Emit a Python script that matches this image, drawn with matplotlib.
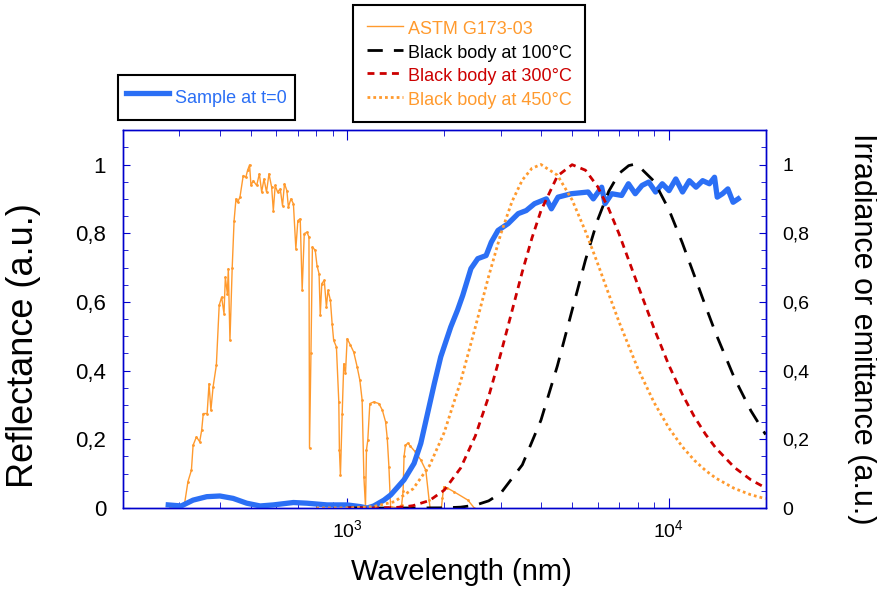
import numpy as np
import matplotlib.pyplot as plt
from matplotlib.ticker import FuncFormatter, MultipleLocator, LogLocator

plt.rcParams['font.family'] = ['Liberation Sans', 'DejaVu Sans']
plt.rcParams['mathtext.fontset'] = 'custom'
plt.rcParams['mathtext.rm'] = 'Liberation Sans'

# Sample reflectance at t=0 (wavelength in nm)
sample_wl = [277, 304, 331, 365, 401, 441, 486, 535, 588, 679, 748, 864, 998, 1098, 1151,
             1180, 1208, 1299, 1363, 1500, 1612, 1691, 1775, 1863, 1951, 2096, 2200, 2284,
             2422, 2544, 2700, 2803, 2940, 3162, 3398, 3600, 3820, 4157, 4310, 4520, 4970,
             5610, 5820, 6180, 6330, 6640, 7130, 7485, 7860, 8250, 8660, 9090, 9540, 10010,
             10510, 11030, 11580, 12150, 12740, 13370, 13870, 14140, 14690, 15260, 15840,
             16430]
sample_r = [0.009, 0.006, 0.023, 0.033, 0.035, 0.028, 0.014, 0.006, 0.009, 0.016, 0.014,
            0.009, 0.009, 0.004, 0.0, 0.003, 0.006, 0.023, 0.038, 0.082, 0.13, 0.188, 0.275,
            0.362, 0.44, 0.527, 0.576, 0.619, 0.697, 0.726, 0.735, 0.774, 0.808, 0.828,
            0.857, 0.866, 0.886, 0.90, 0.871, 0.905, 0.915, 0.92, 0.90, 0.934, 0.886, 0.915,
            0.91, 0.944, 0.915, 0.939, 0.949, 0.92, 0.944, 0.924, 0.958, 0.92, 0.953, 0.934,
            0.953, 0.944, 0.963, 0.905, 0.915, 0.929, 0.89, 0.90]

# ASTM G173-03 solar irradiance, normalised
astm_wl = [280, 304, 312, 319, 327, 331, 339, 347, 352, 356, 366, 371, 376, 382, 391, 399,
           406, 413, 417, 423, 426, 431, 438, 444, 450, 455, 463, 474, 483, 489, 496, 501,
           509, 522, 532, 541, 550, 560, 570, 581, 588, 596, 606, 618, 628, 637, 648, 655,
           667, 679, 691, 701, 713, 723, 734, 748, 759, 762, 770, 778, 794, 804, 816, 823,
           832, 847, 860, 870, 885, 896, 906, 924, 940, 944, 951, 963, 974, 986, 998, 1022,
           1046, 1072, 1093, 1111, 1125, 1138, 1146, 1157, 1174, 1208, 1253, 1284, 1314,
           1330, 1346, 1362, 1440, 1475, 1490, 1500, 1515, 1540, 1570, 1620, 1691, 1753,
           1795, 1808, 1960, 1975, 1995, 2047, 2148, 2370, 2481]
astm_irr = [0.0, 0.0, 0.018, 0.077, 0.11, 0.183, 0.207, 0.193, 0.227, 0.275, 0.275, 0.362,
            0.285, 0.353, 0.416, 0.59, 0.614, 0.566, 0.672, 0.624, 0.697, 0.488, 0.70,
            0.837, 0.90, 0.89, 0.905, 0.968, 0.963, 0.983, 0.999, 0.939, 0.953, 0.939,
            0.973, 0.92, 0.958, 0.92, 0.973, 0.934, 0.866, 0.939, 0.92, 0.929, 0.88, 0.944,
            0.924, 0.876, 0.90, 0.886, 0.755, 0.837, 0.842, 0.634, 0.799, 0.803, 0.789,
            0.174, 0.45, 0.76, 0.75, 0.706, 0.682, 0.561, 0.653, 0.663, 0.585, 0.634, 0.605,
            0.537, 0.488, 0.469, 0.309, 0.169, 0.096, 0.275, 0.42, 0.392, 0.493, 0.474,
            0.454, 0.411, 0.372, 0.314, 0.091, 0.004, 0.169, 0.198, 0.304, 0.309, 0.304,
            0.285, 0.251, 0.203, 0.12, 0.004, 0.0, 0.01, 0.05, 0.15, 0.182, 0.189, 0.18,
            0.165, 0.14, 0.11, 0.023, 0.0, 0.0, 0.03, 0.062, 0.058, 0.047, 0.023, 0.0]

# Black body emittance, normalised to peak
bb100_wl = [1000, 1500, 2000, 2250, 2500, 2750, 3000, 3500, 4000, 4500, 5000, 5500, 6000,
            6500, 7000, 7500, 7750, 8000, 9000, 10000, 11000, 12000, 13000, 14000, 16000,
            18000, 20000]
bb100 = [0.0, 0.0, 0.0005, 0.0025, 0.0083, 0.0208, 0.0433, 0.1257, 0.2557, 0.414, 0.576,
         0.7214, 0.838, 0.922, 0.974, 0.9968, 1.0, 0.998, 0.951, 0.869, 0.773, 0.677,
         0.588, 0.508, 0.378, 0.283, 0.2138]

bb300_wl = [1000, 1200, 1400, 1500, 1600, 1800, 2000, 2250, 2500, 2750, 3000, 3250, 3500,
            3750, 4000, 4500, 5000, 5500, 6000, 6500, 7000, 8000, 9000, 10000, 11000,
            12000, 13000, 14000, 16000, 18000, 20000]
bb300 = [0.0, 0.0002, 0.0014, 0.0033, 0.0069, 0.0218, 0.052, 0.1164, 0.2098, 0.3245,
         0.4496, 0.5734, 0.688, 0.786, 0.8655, 0.9665, 0.9995, 0.9835, 0.936, 0.871,
         0.798, 0.650, 0.522, 0.4158, 0.332, 0.266, 0.2148, 0.1746, 0.118, 0.082, 0.0586]

bb450_wl = [800, 1000, 1200, 1400, 1600, 1800, 2000, 2250, 2500, 2750, 3000, 3250, 3500,
            3750, 4000, 4500, 5000, 5500, 6000, 6500, 7000, 8000, 9000, 10000, 11000,
            12000, 13000, 14000, 16000, 18000, 20000]
bb450 = [0.0, 0.0003, 0.0037, 0.0184, 0.0558, 0.1232, 0.2198, 0.3684, 0.5267, 0.6745,
         0.798, 0.892, 0.9548, 0.989, 1.0, 0.969, 0.897, 0.806, 0.7127, 0.623, 0.5415,
         0.407, 0.3066, 0.233, 0.179, 0.139, 0.1094, 0.087, 0.0568, 0.0385, 0.027]

blue = '#2b6ff5'
orange = '#ff9a2e'
red = '#cc0000'
axcol = '#0000cc'

fig = plt.figure(figsize=(8.77, 5.89), dpi=100)
ax = fig.add_axes([0.140, 0.1375, 0.733, 0.6415])

l_astm, = ax.plot(astm_wl, astm_irr, color=orange, lw=1, marker='.', ms=2, zorder=2,
                  label='ASTM G173-03')
l_sample, = ax.plot(sample_wl, sample_r, color=blue, lw=3.8, zorder=3, label='Sample at t=0')
l_100, = ax.plot(bb100_wl, bb100, color='black', lw=2, dashes=(5.5, 4), zorder=4,
                 label='Black body at 100°C')
l_300, = ax.plot(bb300_wl, bb300, color=red, lw=2, dashes=(2.5, 1.9), zorder=4,
                 label='Black body at 300°C')
l_450, = ax.plot(bb450_wl, bb450, color=orange, lw=2, dashes=(1, 1.1), zorder=4,
                 label='Black body at 450°C')

ax.set_xscale('log')
ax.set_xlim(200, 20000)
ax.set_ylim(0, 1.1)

def comma(v, pos):
    if abs(v) < 1e-9:
        return '0'
    if abs(v - 1) < 1e-9:
        return '1'
    return f'{v:.1f}'.replace('.', ',')

ax.yaxis.set_major_locator(MultipleLocator(0.2))
ax.yaxis.set_minor_locator(MultipleLocator(0.05))
ax.yaxis.set_major_formatter(FuncFormatter(comma))
ax.xaxis.set_minor_locator(LogLocator(base=10, subs=np.arange(2, 10)))

ax2 = ax.twinx()
ax2.set_ylim(0, 1.1)
ax2.yaxis.set_major_locator(MultipleLocator(0.2))
ax2.yaxis.set_minor_locator(MultipleLocator(0.05))
ax2.yaxis.set_major_formatter(FuncFormatter(comma))

for a in (ax, ax2):
    for s in a.spines.values():
        s.set_color(axcol)
        s.set_linewidth(1)

ax.tick_params(axis='x', which='both', direction='in', top=True, colors=axcol,
               labelcolor='black', labelsize=14, pad=8)
ax.tick_params(axis='x', which='major', length=7)
ax.tick_params(axis='x', which='minor', length=4)
ax.tick_params(axis='y', which='both', direction='in', right=False, colors=axcol,
               labelcolor='black', labelsize=16, pad=12)
ax.tick_params(axis='y', which='major', length=5)
ax.tick_params(axis='y', which='minor', length=3.5)
ax2.tick_params(axis='y', which='both', direction='in', colors=axcol,
                labelcolor='black', labelsize=14, pad=12)
ax2.tick_params(axis='y', which='major', length=5)
ax2.tick_params(axis='y', which='minor', length=3.5)

ax.set_xlabel('Wavelength (nm)', fontsize=21)
ax.xaxis.set_label_coords(0.5265, -0.133)
fig.text(24 / 877, 1 - 346 / 589, 'Reflectance (a.u.)', fontsize=26, rotation=90,
         ha='center', va='center')
fig.text(862 / 877, 1 - 329 / 589, 'Irradiance or emittance (a.u.)', fontsize=22,
         rotation=270, ha='center', va='center')

leg1 = fig.legend(handles=[l_sample], loc='upper left', bbox_to_anchor=(0.1345, 0.8727),
                  fontsize=13, labelcolor='linecolor', handlelength=2.4, handleheight=2.1,
                  handletextpad=0.3, borderaxespad=0, fancybox=False, framealpha=1,
                  borderpad=0.45)
leg1.get_frame().set_edgecolor('black')
leg1.get_frame().set_linewidth(1.5)

leg2 = fig.legend(handles=[l_astm, l_100, l_300, l_450], loc='upper left',
                  bbox_to_anchor=(0.4025, 0.9915), fontsize=13, labelcolor='linecolor',
                  handlelength=2.0, handleheight=1.3, handletextpad=0.3, labelspacing=0.2,
                  borderaxespad=0, fancybox=False, framealpha=1, borderpad=0.75)
leg2.get_frame().set_edgecolor('black')
leg2.get_frame().set_linewidth(1.5)
for h in leg2.legend_handles:
    h.set_marker('')

fig.savefig('out.png', dpi=100)
